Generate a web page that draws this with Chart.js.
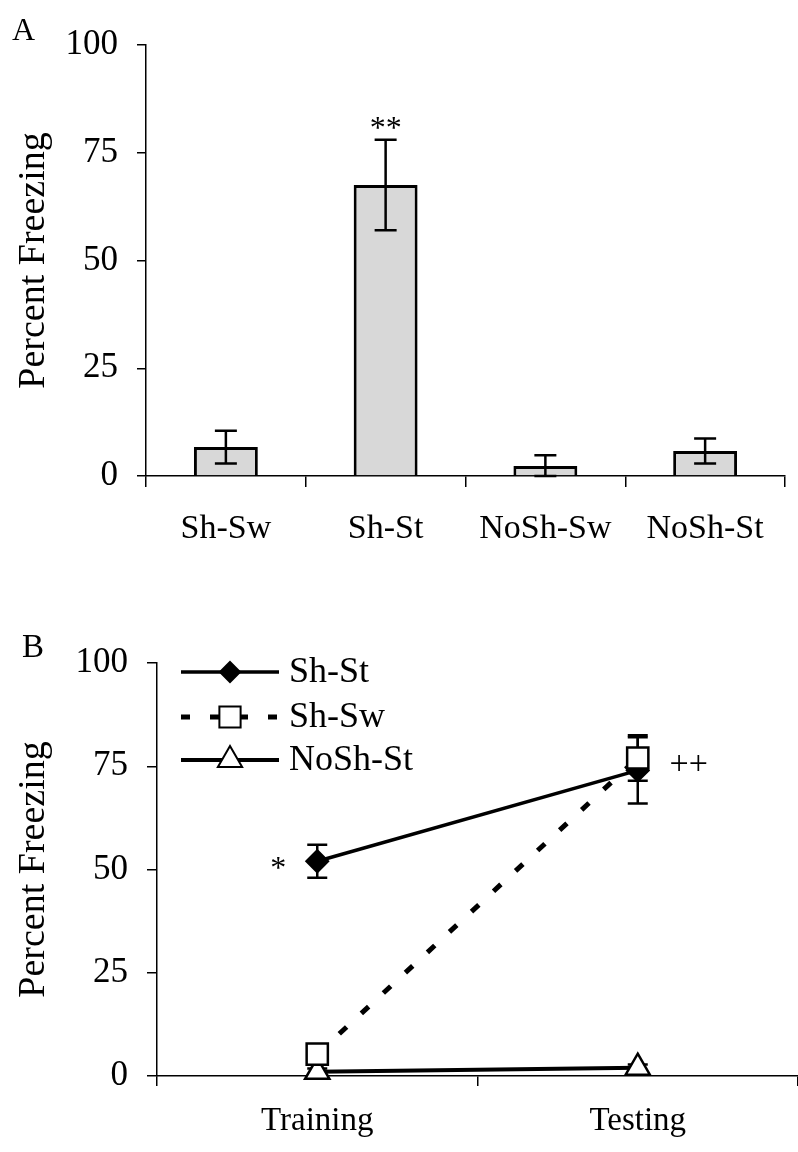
<!DOCTYPE html>
<html lang="en">
<head>
<meta charset="UTF-8">
<title>Percent Freezing</title>
<script src="https://cdn.jsdelivr.net/npm/chart.js"></script>
<style>
  body { margin: 0; background: #fff; width: 798px; height: 1152px; position: relative; overflow: hidden; }
  .painel { position: absolute; left: 0; }
  .letra { position: absolute; font-family: 'Liberation Serif', serif; color: #000; line-height: 1; }
</style>
</head>
<body>
<canvas id="chartA" class="painel" width="798" height="560" style="top:0"></canvas>
<canvas id="chartB" class="painel" width="798" height="592" style="top:560px"></canvas>
<div class="letra" style="left:12px;top:13px;font-size:32px">A</div>
<div class="letra" style="left:22px;top:630px;font-size:33px">B</div>

<script>
// painel A - barras
const groupsA = ['Sh-Sw', 'Sh-St', 'NoSh-Sw', 'NoSh-St'];
const freezeA = [6.7, 67.5, 2.3, 5.8];
const semA = [3.8, 10.5, 2.5, 2.9];

// painel B - linhas
const phasesB = ['Training', 'Testing'];
const shSt = [52, 74];
const shStErr = [4, 8];
const shSw = [5.3, 77];
const shSwErr = [0, 5.5];
const noShSt = [1, 2];
const noShStErr = [0.8, 0.8];

const yTicks = [0, 25, 50, 75, 100];

Chart.defaults.font.family = "'Liberation Serif', 'Times New Roman', serif";
Chart.defaults.color = '#000';

// barras de erro (desenhadas a partir da escala y)
function desenharErros(chart, cap) {
  const ctx = chart.ctx;
  const y = chart.scales.y;
  chart.data.datasets.forEach(function (ds, i) {
    if (!ds.errors) return;
    const meta = chart.getDatasetMeta(i);
    meta.data.forEach(function (el, j) {
      const e = ds.errors[j];
      if (!e) return;
      const x = el.x;
      const yTop = y.getPixelForValue(ds.data[j] + e);
      const yBot = y.getPixelForValue(Math.max(0, ds.data[j] - e));
      ctx.save();
      ctx.strokeStyle = '#000';
      ctx.lineWidth = 2.5;
      ctx.beginPath();
      ctx.moveTo(x, yTop); ctx.lineTo(x, yBot);
      ctx.moveTo(x - cap, yTop); ctx.lineTo(x + cap, yTop);
      ctx.moveTo(x - cap, yBot); ctx.lineTo(x + cap, yBot);
      ctx.stroke();
      ctx.restore();
    });
  });
}

function escalaY(titulo) {
  return {
    min: 0, max: 100,
    afterBuildTicks: function (s) { s.ticks = yTicks.map(v => ({ value: v })); },
    ticks: { font: { size: 35 }, padding: 19, color: '#000' },
    grid: { drawOnChartArea: false, tickLength: 9, color: '#000', lineWidth: 1.5 },
    border: { color: '#000', width: 1.5 },
    title: { display: true, text: titulo, font: { size: 38 }, padding: { top: 11, bottom: 0 }, color: '#000' }
  };
}

// ---------- grafico A ----------
const yA = escalaY('Percent Freezing');
yA.afterFit = function (s) { s.width = 146; };

new Chart(document.getElementById('chartA'), {
  type: 'bar',
  data: {
    labels: groupsA,
    datasets: [{
      data: freezeA,
      errors: semA,
      backgroundColor: '#d8d8d8',
      borderColor: '#000',
      borderWidth: 3,
      categoryPercentage: 0.5,
      barPercentage: 0.8
    }]
  },
  options: {
    responsive: false,
    animation: false,
    layout: { padding: { top: 45, right: 13, left: 0, bottom: 0 } },
    plugins: { legend: { display: false }, tooltip: { enabled: false } },
    scales: {
      x: {
        afterFit: function (s) { s.height = 84; },
        ticks: { font: { size: 34 }, padding: 22, color: '#000' },
        grid: { drawOnChartArea: false, offset: true, tickLength: 11, color: '#000', lineWidth: 1.5 },
        border: { color: '#000', width: 1.5 }
      },
      y: yA
    }
  },
  plugins: [{
    id: 'errosA',
    afterDatasetsDraw: function (chart) {
      desenharErros(chart, 11);
      const ctx = chart.ctx;
      const el = chart.getDatasetMeta(0).data[1];
      ctx.save();
      ctx.font = "32px 'Liberation Serif'";
      ctx.textAlign = 'center';
      ctx.textBaseline = 'alphabetic';
      ctx.fillStyle = '#000';
      ctx.fillText('**', el.x, chart.scales.y.getPixelForValue(freezeA[1] + semA[1]) - 2);
      ctx.restore();
    }
  }]
});

// ---------- grafico B ----------
const yB = escalaY('Percent Freezing');
yB.afterFit = function (s) { s.width = 157; };
yB.grid.tickLength = 10;

function marcador(ctx, tipo, x, y, r, fill) {
  ctx.save();
  ctx.setLineDash([]);
  ctx.lineWidth = 2;
  ctx.strokeStyle = '#000';
  ctx.fillStyle = fill;
  ctx.beginPath();
  if (tipo === 'rectRot') {
    ctx.moveTo(x, y - r); ctx.lineTo(x + r, y); ctx.lineTo(x, y + r); ctx.lineTo(x - r, y);
  } else if (tipo === 'rect') {
    const h = r * Math.SQRT1_2;
    ctx.rect(x - h, y - h, 2 * h, 2 * h);
  } else {
    ctx.moveTo(x, y - r); ctx.lineTo(x + r * 0.866, y + r / 2); ctx.lineTo(x - r * 0.866, y + r / 2);
  }
  ctx.closePath();
  ctx.fill();
  ctx.stroke();
  ctx.restore();
}

const dsB = [
  { label: 'Sh-St', data: shSt, errors: shStErr, borderColor: '#000', borderWidth: 3.5, pointStyle: 'rectRot', pointRadius: 11, pointBackgroundColor: '#000', pointBorderColor: '#000', pointBorderWidth: 2, order: 1, clip: false },
  { label: 'Sh-Sw', data: shSw, errors: shSwErr, borderColor: '#000', borderWidth: 5, borderDash: [10, 20], pointStyle: 'rect', pointRadius: 15, pointBackgroundColor: '#fff', pointBorderColor: '#000', pointBorderWidth: 2.5, order: 0, clip: false },
  { label: 'NoSh-St', data: noShSt, errors: noShStErr, borderColor: '#000', borderWidth: 4, pointStyle: 'triangle', pointRadius: 14, pointBackgroundColor: '#fff', pointBorderColor: '#000', pointBorderWidth: 2.5, order: 2, clip: false }
];

new Chart(document.getElementById('chartB'), {
  type: 'line',
  data: { labels: phasesB, datasets: dsB },
  options: {
    responsive: false,
    animation: false,
    layout: { autoPadding: false, padding: { top: 103, right: 0, left: 0, bottom: 0 } },
    plugins: { legend: { display: false }, tooltip: { enabled: false } },
    scales: {
      x: {
        offset: true,
        afterFit: function (s) { s.height = 76; },
        ticks: { font: { size: 33 }, padding: 16, color: '#000' },
        grid: { drawOnChartArea: false, offset: true, tickLength: 10, color: '#000', lineWidth: 1.5 },
        border: { color: '#000', width: 1.5 }
      },
      y: yB
    }
  },
  plugins: [{
    id: 'errosB',
    beforeDatasetsDraw: function (chart) { desenharErros(chart, 10); },
    afterDraw: function (chart) {
      const ctx = chart.ctx;
      const ys = chart.scales.y;
      const pT = chart.getDatasetMeta(0).data[0];
      const pS = chart.getDatasetMeta(0).data[1];
      ctx.save();
      ctx.fillStyle = '#000';
      ctx.font = "32px 'Liberation Serif'";
      ctx.textAlign = 'center';
      ctx.textBaseline = 'middle';
      ctx.fillText('*', pT.x - 39, ys.getPixelForValue(shSt[0]) + 8);
      ctx.font = "34px 'Liberation Serif'";
      ctx.fillText('++', pS.x + 51, ys.getPixelForValue(shSt[1]) - 5);

      // legenda: linha + marcador
      ctx.font = "36px 'Liberation Serif'";
      ctx.textAlign = 'left';
      const linhas = [112, 157, 200];
      chart.data.datasets.forEach(function (ds, i) {
        const y = linhas[i];
        ctx.save();
        ctx.strokeStyle = '#000';
        ctx.lineWidth = ds.borderWidth;
        ctx.setLineDash(ds.borderDash ? [9, 20] : []);
        ctx.beginPath();
        ctx.moveTo(181, y); ctx.lineTo(279, y);
        ctx.stroke();
        ctx.restore();
        marcador(ctx, ds.pointStyle, 230, y, ds.pointStyle === 'rectRot' ? 10 : ds.pointRadius, ds.pointBackgroundColor);
        ctx.fillText(ds.label, 289, y + 1);
      });
      ctx.restore();
    }
  }]
});
</script>
</body>
</html>
